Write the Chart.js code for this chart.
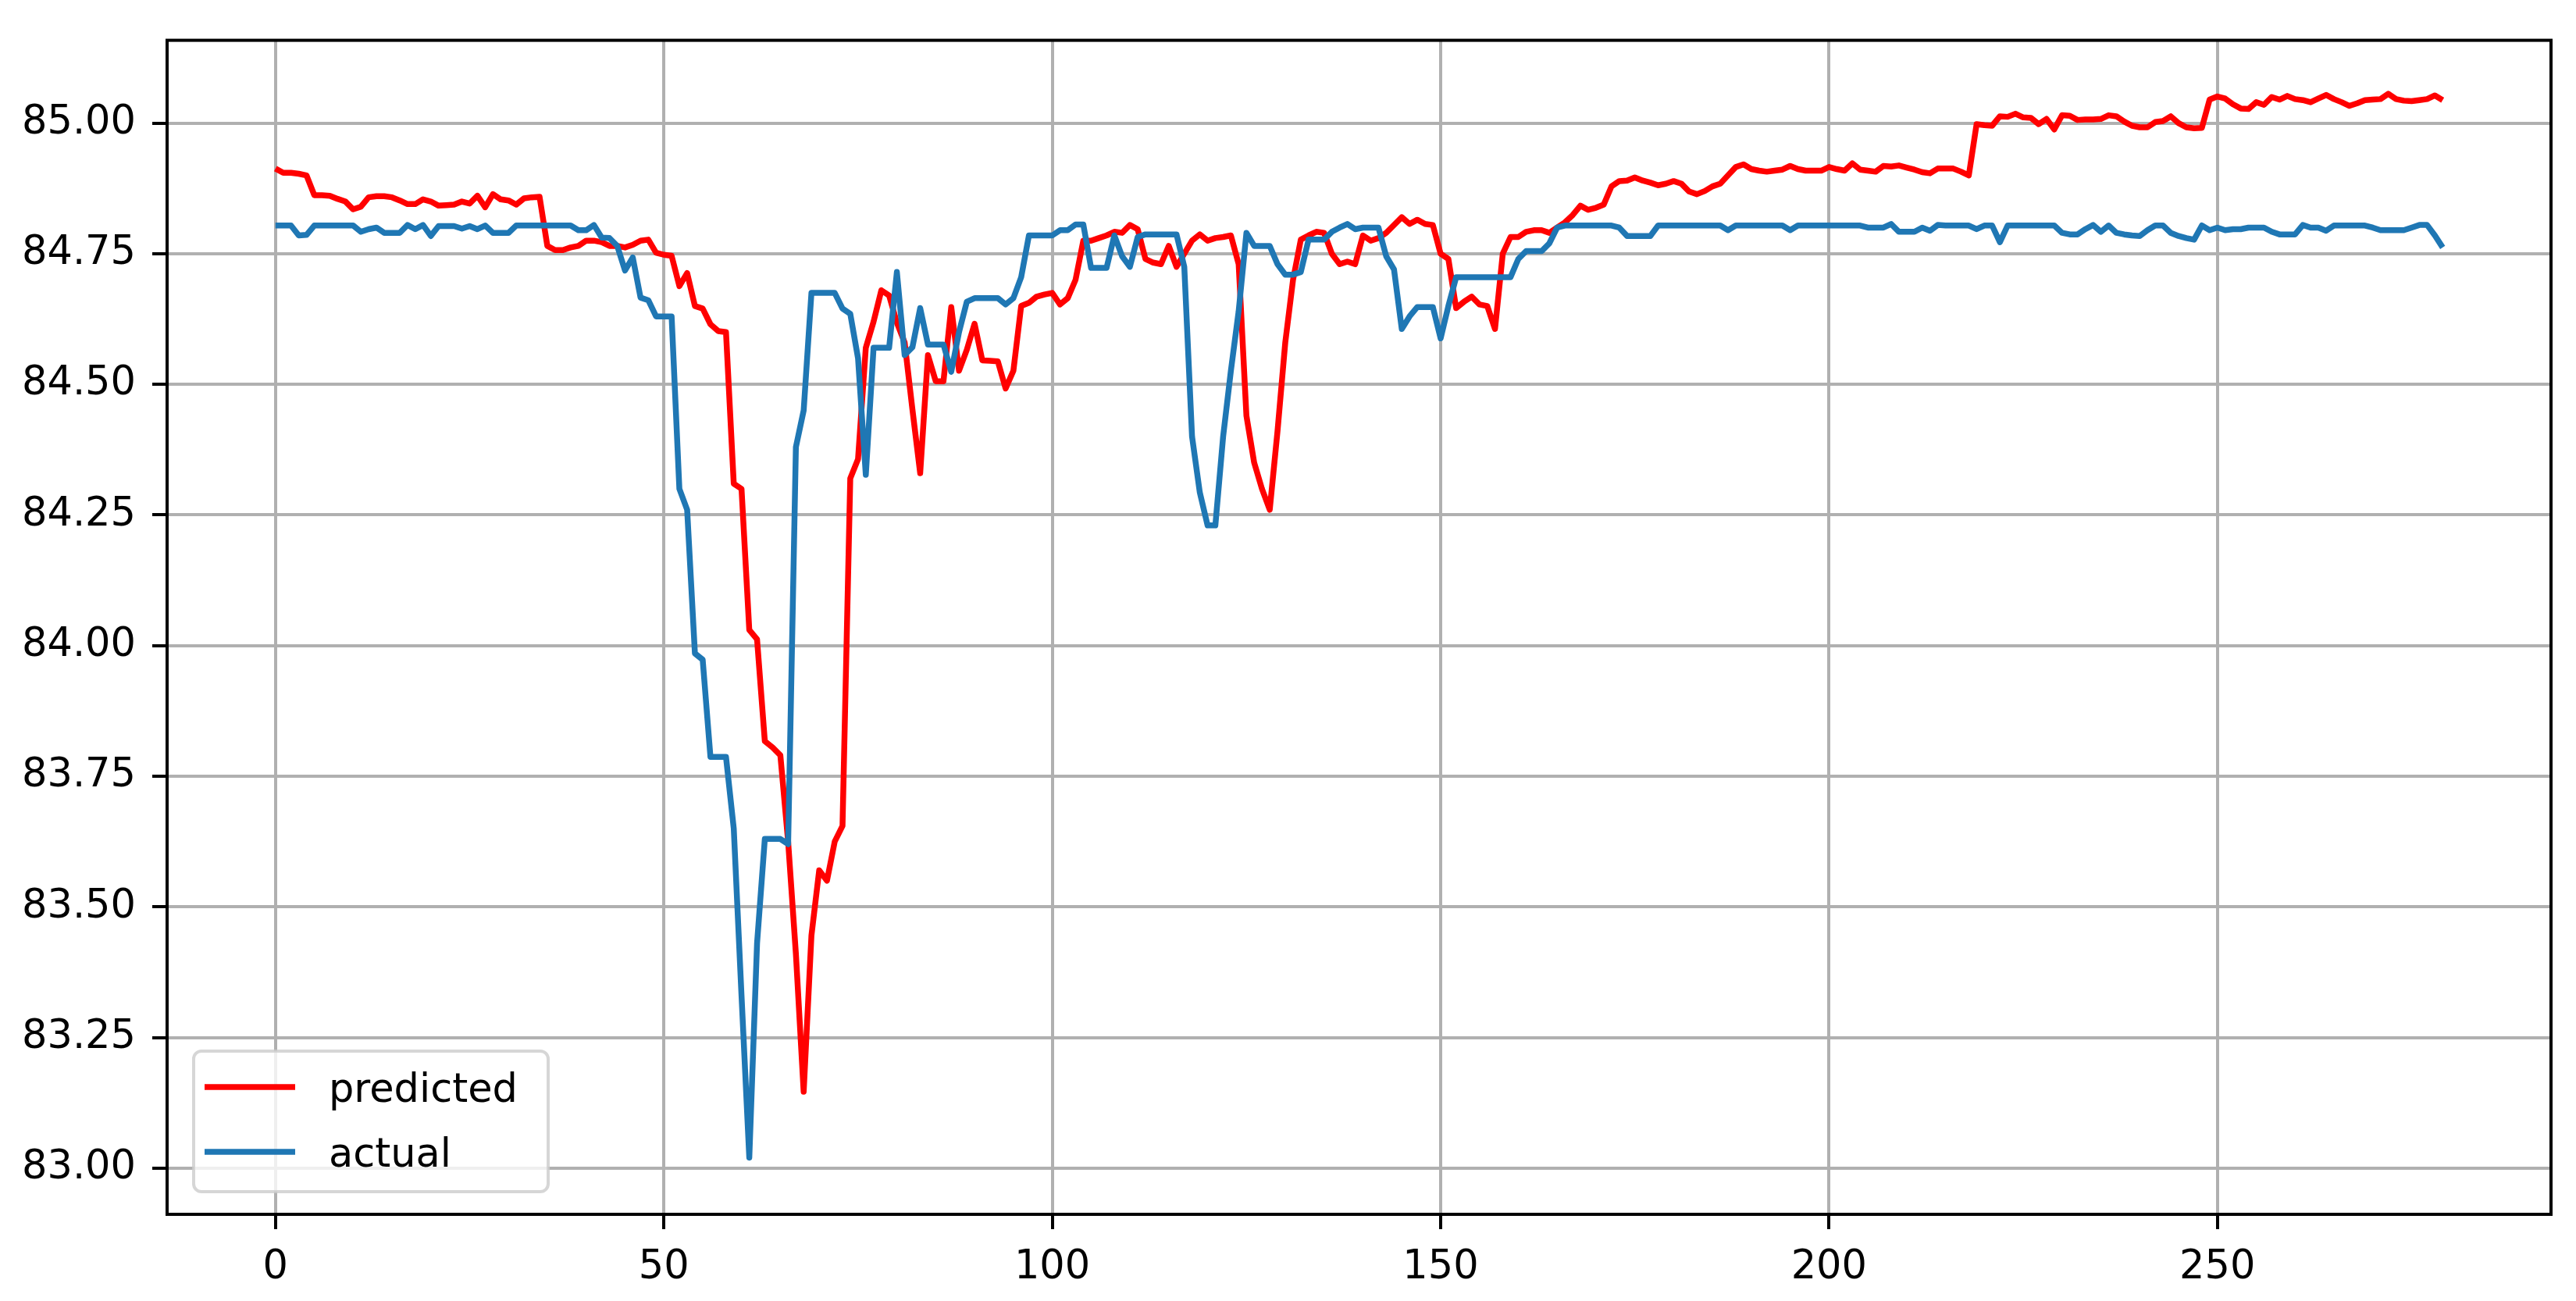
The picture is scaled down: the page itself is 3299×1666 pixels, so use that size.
<!DOCTYPE html>
<html>
<head>
<meta charset="utf-8">
<title>predicted vs actual</title>
<script src="https://cdn.jsdelivr.net/npm/chart.js@4.4.1/dist/chart.umd.min.js"></script>
<style>
  html, body { margin: 0; padding: 0; background: #ffffff; }
  #wrap { width: 3299px; height: 1666px; }
</style>
</head>
<body>
<div id="wrap"><canvas id="chart" width="3299" height="1666"></canvas></div>
<script>
// values, one per step 0..279
const PREDICTED = [
  84.913, 84.905, 84.905, 84.903, 84.900, 84.862, 84.862, 84.861, 84.855, 84.850,
  84.835, 84.840, 84.858, 84.860, 84.860, 84.858, 84.852, 84.845, 84.845, 84.854,
  84.850, 84.842, 84.843, 84.844, 84.850, 84.846, 84.861, 84.839, 84.864, 84.854,
  84.852, 84.844, 84.856, 84.858, 84.859, 84.765, 84.757, 84.757, 84.762, 84.765,
  84.775, 84.775, 84.772, 84.765, 84.765, 84.762, 84.767, 84.775, 84.777, 84.752,
  84.748, 84.746, 84.688, 84.713, 84.650, 84.645, 84.615, 84.602, 84.600, 84.310,
  84.300, 84.030, 84.012, 83.817, 83.805, 83.790, 83.625, 83.410, 83.146, 83.445,
  83.570, 83.550, 83.625, 83.655, 84.320, 84.357, 84.570, 84.620, 84.680, 84.670,
  84.618, 84.580, 84.452, 84.330, 84.556, 84.506, 84.506, 84.648, 84.526, 84.566,
  84.616, 84.546, 84.545, 84.544, 84.492, 84.526, 84.650, 84.656, 84.668, 84.672,
  84.675, 84.653, 84.665, 84.700, 84.775, 84.775, 84.780, 84.785, 84.792, 84.790,
  84.805, 84.797, 84.740, 84.733, 84.730, 84.765, 84.725, 84.750, 84.775, 84.787,
  84.775, 84.780, 84.782, 84.785, 84.730, 84.440, 84.350, 84.300, 84.260, 84.410,
  84.580, 84.700, 84.777, 84.785, 84.792, 84.790, 84.750, 84.730, 84.735, 84.730,
  84.785, 84.775, 84.780, 84.790, 84.805, 84.820, 84.807, 84.815, 84.807, 84.805,
  84.750, 84.740, 84.646, 84.658, 84.668, 84.653, 84.650, 84.606, 84.750, 84.782,
  84.782, 84.792, 84.795, 84.795, 84.790, 84.800, 84.810, 84.824, 84.842, 84.834,
  84.838, 84.844, 84.879, 84.889, 84.890, 84.896, 84.890, 84.886, 84.881, 84.884,
  84.889, 84.884, 84.869, 84.864, 84.870, 84.879, 84.884, 84.900, 84.916, 84.921,
  84.912, 84.909, 84.907, 84.909, 84.911, 84.918, 84.912, 84.909, 84.909, 84.909,
  84.916, 84.912, 84.909, 84.923, 84.911, 84.909, 84.907, 84.918, 84.917, 84.919,
  84.915, 84.911, 84.906, 84.904, 84.913, 84.913, 84.913, 84.907, 84.900, 84.998,
  84.996, 84.995, 85.013, 85.012, 85.018, 85.011, 85.010, 84.998, 85.008, 84.988,
  85.015, 85.014, 85.006, 85.007, 85.007, 85.008, 85.015, 85.013, 85.003, 84.995,
  84.992, 84.992, 85.002, 85.004, 85.013, 85.000, 84.992, 84.990, 84.991, 85.045,
  85.051, 85.047, 85.036, 85.028, 85.027, 85.040, 85.035, 85.050, 85.045, 85.052,
  85.046, 85.044, 85.040, 85.047, 85.054, 85.046, 85.040, 85.033, 85.038, 85.044,
  85.045, 85.046, 85.056, 85.046, 85.043, 85.042, 85.044, 85.046, 85.053, 85.044
];

const ACTUAL = [
  84.804, 84.804, 84.804, 84.785, 84.786, 84.804, 84.804, 84.804, 84.804, 84.804,
  84.804, 84.792, 84.797, 84.800, 84.790, 84.790, 84.790, 84.805, 84.797, 84.805,
  84.784, 84.803, 84.803, 84.803, 84.798, 84.803, 84.797, 84.804, 84.790, 84.790,
  84.790, 84.804, 84.804, 84.804, 84.804, 84.804, 84.804, 84.804, 84.804, 84.795,
  84.795, 84.805, 84.781, 84.780, 84.765, 84.718, 84.743, 84.666, 84.661, 84.630,
  84.630, 84.630, 84.300, 84.260, 83.985, 83.973, 83.787, 83.787, 83.787, 83.650,
  83.330, 83.020, 83.430, 83.630, 83.630, 83.630, 83.620, 84.380, 84.450, 84.675,
  84.675, 84.675, 84.675, 84.645, 84.635, 84.550, 84.327, 84.570, 84.570, 84.570,
  84.715, 84.556, 84.571, 84.646, 84.576, 84.576, 84.576, 84.524, 84.600, 84.658,
  84.665, 84.665, 84.665, 84.665, 84.653, 84.665, 84.705, 84.785, 84.785, 84.785,
  84.785, 84.795, 84.795, 84.806, 84.806, 84.723, 84.723, 84.723, 84.785, 84.745,
  84.725, 84.782, 84.787, 84.787, 84.787, 84.787, 84.787, 84.725, 84.400, 84.293,
  84.230, 84.230, 84.400, 84.526, 84.640, 84.790, 84.765, 84.765, 84.765, 84.730,
  84.710, 84.710, 84.715, 84.777, 84.777, 84.777, 84.792, 84.800, 84.807, 84.797,
  84.800, 84.800, 84.800, 84.745, 84.720, 84.606, 84.630, 84.648, 84.648, 84.648,
  84.588, 84.650, 84.705, 84.705, 84.705, 84.705, 84.705, 84.705, 84.705, 84.705,
  84.740, 84.755, 84.755, 84.755, 84.770, 84.800, 84.804, 84.804, 84.804, 84.804,
  84.804, 84.804, 84.804, 84.800, 84.784, 84.784, 84.784, 84.784, 84.804, 84.804,
  84.804, 84.804, 84.804, 84.804, 84.804, 84.804, 84.804, 84.795, 84.804, 84.804,
  84.804, 84.804, 84.804, 84.804, 84.804, 84.795, 84.804, 84.804, 84.804, 84.804,
  84.804, 84.804, 84.804, 84.804, 84.804, 84.800, 84.800, 84.800, 84.807, 84.792,
  84.792, 84.792, 84.800, 84.794, 84.805, 84.804, 84.804, 84.804, 84.804, 84.797,
  84.804, 84.804, 84.772, 84.804, 84.804, 84.804, 84.804, 84.804, 84.804, 84.804,
  84.790, 84.787, 84.787, 84.797, 84.805, 84.792, 84.804, 84.790, 84.787, 84.785,
  84.784, 84.795, 84.804, 84.804, 84.790, 84.784, 84.780, 84.777, 84.804, 84.795,
  84.800, 84.795, 84.797, 84.797, 84.800, 84.800, 84.800, 84.792, 84.787, 84.787,
  84.787, 84.805, 84.800, 84.800, 84.794, 84.804, 84.804, 84.804, 84.804, 84.804,
  84.800, 84.795, 84.795, 84.795, 84.795, 84.800, 84.805, 84.805, 84.785, 84.762
];

const SERIES_NAMES = ["predicted", "actual"];
const X_TICKS = [0, 50, 100, 150, 200, 250];
const Y_TICKS = [83.00, 83.25, 83.50, 83.75, 84.00, 84.25, 84.50, 84.75, 85.00];

document.addEventListener("DOMContentLoaded", function () {
  const FONT = "'DejaVu Sans', 'Liberation Sans', sans-serif";
  Chart.defaults.font.family = FONT;
  Chart.defaults.font.size = 51;
  Chart.defaults.color = "#000000";

  function toPoints(values) {
    return values.map((v, i) => ({ x: i, y: v }));
  }

  // spines on all four sides, like matplotlib
  const frame = {
    id: "frame",
    afterDatasetsDraw(chart) {
      const a = chart.chartArea;
      const ctx = chart.ctx;
      ctx.save();
      ctx.strokeStyle = "#000000";
      ctx.lineWidth = 4;
      ctx.strokeRect(a.left, a.top, a.right - a.left, a.bottom - a.top);
      ctx.restore();
    },
  };

  // legend box in the lower left corner of the plot
  const boxLegend = {
    id: "boxLegend",
    afterDraw(chart) {
      const a = chart.chartArea;
      const ctx = chart.ctx;
      const left = a.left + 34;
      const top = a.bottom - 209;
      const w = 454, h = 180, r = 10;
      ctx.save();
      ctx.beginPath();
      ctx.roundRect(left, top, w, h, r);
      ctx.fillStyle = "rgba(255,255,255,0.8)";
      ctx.fill();
      ctx.lineWidth = 4;
      ctx.strokeStyle = "rgba(204,204,204,0.8)";
      ctx.stroke();

      ctx.font = "51px " + FONT;
      ctx.textBaseline = "alphabetic";
      ctx.textAlign = "left";
      chart.data.datasets.forEach((ds, i) => {
        const y = top + 46 + i * 83;
        ctx.beginPath();
        ctx.moveTo(left + 14, y);
        ctx.lineTo(left + 130, y);
        ctx.strokeStyle = ds.borderColor;
        ctx.lineWidth = 7.5;
        ctx.lineCap = "butt";
        ctx.stroke();
        ctx.fillStyle = "#000000";
        ctx.fillText(ds.label, left + 173, y + 19);
      });
      ctx.restore();
    },
  };

  const ctx = document.getElementById("chart").getContext("2d");
  new Chart(ctx, {
    type: "line",
    data: {
      datasets: [
        {
          label: SERIES_NAMES[0],
          data: toPoints(PREDICTED),
          borderColor: "#ff0000",
          borderWidth: 7.5,
          pointRadius: 0,
          tension: 0,
          borderJoinStyle: "round",
          order: 1,
        },
        {
          label: SERIES_NAMES[1],
          data: toPoints(ACTUAL),
          borderColor: "#1f77b4",
          borderWidth: 7.5,
          pointRadius: 0,
          tension: 0,
          borderJoinStyle: "round",
          order: 0,
        },
      ],
    },
    options: {
      responsive: false,
      animation: false,
      devicePixelRatio: 1,
      layout: { padding: { left: 0, top: 41, right: 32, bottom: 0 } },
      plugins: {
        legend: { display: false },
        tooltip: { enabled: false },
      },
      scales: {
        x: {
          type: "linear",
          min: -13.95,
          max: 292.95,
          afterBuildTicks: (scale) => {
            scale.ticks = X_TICKS.map((v) => ({ value: v }));
          },
          afterFit: (scale) => {
            scale.height = 111;
          },
          ticks: {
            autoSkip: false,
            maxRotation: 0,
            padding: 19,
            callback: (v) => String(v),
          },
          grid: {
            color: "#b0b0b0",
            lineWidth: 4,
            drawTicks: true,
            tickLength: 19,
            tickColor: "#000000",
            tickWidth: 4,
          },
          border: { display: false },
        },
        y: {
          min: 82.9115,
          max: 85.1585,
          afterBuildTicks: (scale) => {
            scale.ticks = Y_TICKS.map((v) => ({ value: v }));
          },
          afterFit: (scale) => {
            scale.width = 214;
          },
          ticks: {
            autoSkip: false,
            padding: 21,
            callback: (v) => Number(v).toFixed(2),
          },
          grid: {
            color: "#b0b0b0",
            lineWidth: 4,
            drawTicks: true,
            tickLength: 19,
            tickColor: "#000000",
            tickWidth: 4,
          },
          border: { display: false },
        },
      },
    },
    plugins: [frame, boxLegend],
  });
});
</script>
</body>
</html>
